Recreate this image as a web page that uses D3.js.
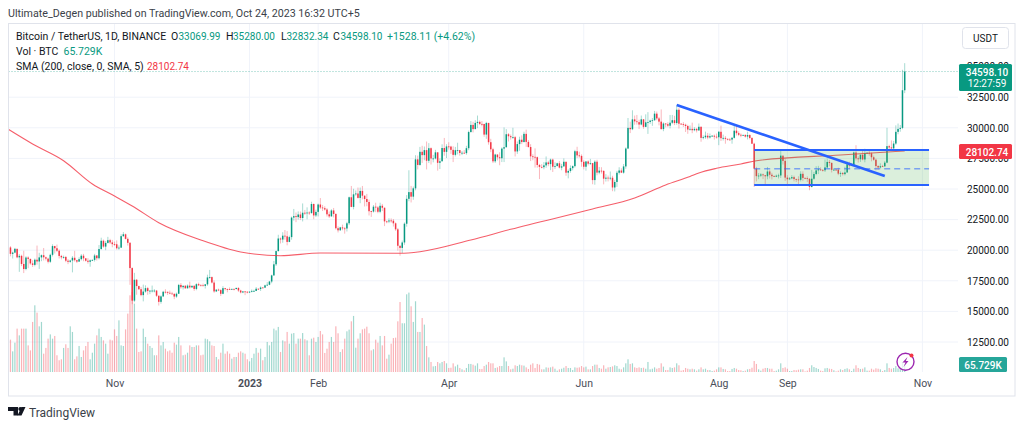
<!DOCTYPE html>
<html>
<head>
<meta charset="utf-8">
<script src="https://cdn.jsdelivr.net/npm/d3@7"></script>
<style>
body { margin: 0; background: white; }
text { font-family: Roboto, sans-serif; }
</style>
</head>
<body>
<script>
// daily candles, 2022-09-14 to 2023-10-24, one line per month
var firstDay = "2022-09-14";
var firstOpen = 20173;
var closes = [
20226,19701,19803,20113,19416,19537,18875,18461,19401,19289,18920,18802,19222,19079,19412,19591,19422,
19310,19056,19623,20336,20160,19955,19531,19417,19446,19141,19051,19157,19382,19185,19067,19268,19550,19334,19139,19053,19172,19207,19567,19345,20095,20771,20295,20595,20818,20635,20495,
20485,20159,20209,21148,21299,20925,20602,18541,15880,17586,17070,16813,16330,16619,16900,16662,16692,16700,16700,16280,15781,16226,16603,16599,16522,16459,16428,16212,16442,17163,
16977,17092,16885,17105,16967,17089,16836,17224,17128,17127,17085,17209,17774,17803,17356,16632,16777,16738,16439,16897,16824,16821,16778,16837,16830,16918,16707,16547,16633,16607,16542,
16616,16672,16675,16850,16831,16950,16943,17127,17178,17440,17943,18846,19930,20955,20872,21185,21134,20677,21071,22667,22783,22707,22917,22632,23060,23009,23074,23031,23774,22840,23130,
23732,23488,23431,23326,22932,22762,23249,22963,21796,21625,21862,21782,21773,22199,24324,23538,24566,24631,24271,24843,24452,24182,23940,23186,23158,23555,23492,23141,
23629,23469,22354,22346,22430,22409,22197,21705,20362,20187,20632,22163,24197,24746,24375,25055,27423,26965,28039,27767,28176,27307,28333,27493,27494,27994,27139,27268,28348,28033,28478,
28465,28199,27790,28170,28175,27942,27961,27933,28334,29653,30235,29892,30399,30485,30318,30315,29445,30397,28822,28245,27262,27817,27591,27514,28300,28415,29473,29311,29230,29233,
28068,28669,29026,28838,29505,28848,28430,27668,27628,27598,26963,26804,26784,26930,27171,27033,27404,26821,26880,27102,26747,26851,27225,26334,26473,26705,26868,28085,27745,27702,27219,
26819,27249,27069,27115,25728,27230,26339,26498,26477,25841,25925,25902,25918,25124,25575,26327,26511,26336,26844,28307,29993,29884,30688,30527,30462,30267,30692,30077,30446,30472,
30585,30617,31156,30766,30504,29895,30348,30292,30171,30414,30620,30391,31476,30334,30297,30249,30145,29856,29913,29803,29908,29791,30083,29176,29228,29354,29212,29314,29352,29275,29230,
29675,29152,29176,29097,29042,29041,29180,29765,29561,29429,29397,29415,29283,29408,29170,28701,26664,26049,26096,26189,26125,26040,26431,26163,26047,26004,26089,26106,27727,27297,25931,
25795,25869,25969,25812,25779,25753,26240,25905,25895,25832,25162,25840,26223,26522,26600,26560,26527,26760,27211,27133,26567,26580,26579,26256,26298,26217,26352,27021,26911,26968,
27983,27502,27429,27795,27412,27932,27956,27917,27591,27390,26875,26759,26862,26853,27154,28500,28396,28320,28713,29669,29909,29992,33069,34598.10
];
var highs = [
20540,20330,19890,20190,20110,19690,19630,19950,19500,19500,19310,19180,19320,20380,19790,19650,20180,
19480,19390,19720,20480,20360,20460,20060,19620,19560,19530,19270,19220,19520,19950,19210,19420,19680,19700,19360,19350,19250,19250,19700,19600,20420,21020,20870,20750,21090,20930,20840,
20700,20800,20390,21300,21480,21360,21050,20670,18600,18150,17650,17100,17000,17190,17130,17000,16750,17110,16820,16750,16290,16310,16680,16810,16610,16700,16600,16490,16540,17250,
17320,17110,17160,17200,17430,17110,17140,17300,17350,17230,17270,17240,18000,18390,17850,17530,16800,16860,16820,17060,16920,16870,16960,16860,16870,16940,16970,16770,16660,16650,16640,
16630,16790,16770,16990,16880,17040,16980,17180,17390,17490,18000,19120,19970,21260,21040,21470,21650,21560,21190,22750,23370,23080,23170,23160,23820,23290,23500,23180,23960,23820,23310,
23810,24260,23700,23590,23440,23160,23350,23450,23010,21950,21910,22090,21900,22320,24380,25250,25020,24880,25120,25120,25250,24480,24600,24130,23220,23690,23880,23600,
23880,23780,23480,22420,22610,22600,22550,22270,21820,20370,20790,22270,24500,26530,25250,25200,27760,27730,28440,28530,28470,28880,28750,28400,27790,28200,28020,27500,28650,29170,28660,
28820,28530,28490,28440,28780,28190,28100,28180,28530,29770,30550,30490,30620,31000,30600,30550,30320,30490,30410,29100,28370,27880,27820,28000,28400,30030,29890,29570,29450,30000,
29340,28880,29270,29380,29680,29850,29000,28660,27840,28320,27650,27050,27030,27200,27660,27300,27480,27480,27180,27150,27280,27050,27500,27220,26600,26930,26930,28200,28450,28050,27830,
27350,27300,27340,27460,27130,27350,27390,26800,26780,26530,26210,26100,26430,26080,25750,26480,26780,26690,27040,28400,30800,30500,31430,31000,31050,30660,31000,30710,31100,31280,
30660,30800,31380,31330,30880,31500,30450,30390,30450,31050,31050,30980,31820,31640,30390,30460,30340,30250,30190,30420,30050,29990,30350,30100,29380,29690,29580,29530,29410,29450,29530,
29740,30180,29440,29320,29130,29170,29250,30240,30140,29710,29540,29450,29470,29680,29470,29230,28780,26810,26310,26300,26260,26150,26800,26560,26320,26110,26180,26250,28140,27580,27490,
26130,25980,26130,26090,25860,26040,26450,26440,25950,26030,25890,26560,26400,26860,26890,26770,26620,27410,27490,27370,27160,26720,26640,26740,26430,26390,26820,27240,27230,27090,
28060,28580,27670,27830,28120,28290,28030,28120,27990,27730,27480,26950,27100,26980,27290,30000,28620,28970,28930,30200,30350,30230,34740,35280
];
var lows = [
19620,19500,19320,19750,19340,18230,18700,18130,18360,18530,18810,18630,18680,18820,18470,19100,19160,
19160,18920,18960,19490,19730,19850,19320,19250,19310,19020,18860,18970,18190,19070,18950,19060,19160,19100,19070,18900,18650,19110,19070,19160,19240,20050,20200,20000,20550,20510,20240,
20350,20050,20030,20180,21080,20880,20380,17170,15590,15750,16360,16750,16230,15820,16530,16360,16410,16550,16550,16180,15480,15630,16170,16460,16350,16400,16400,16000,16110,16430,
16850,16790,16860,16880,16870,16910,16680,16730,17090,17090,17070,16870,17090,17660,17280,16520,16580,16660,16260,16400,16710,16560,16760,16790,16720,16790,16590,16470,16490,16330,16470,
16500,16550,16600,16660,16750,16670,16910,16910,17100,17140,17300,17900,18710,19880,20550,20610,20860,20400,20650,20860,22420,22290,22500,22460,22350,22890,22530,22880,22990,22530,22710,
22760,23360,23200,23240,22750,22630,22750,22680,21690,21450,21600,21630,21350,21530,22050,23510,23340,24450,24220,23840,24150,23570,23590,22840,22720,23080,23110,23020,
23020,23200,21970,22200,22210,22250,21930,21580,19970,19550,19770,20440,21920,24000,23900,24120,24890,26600,26900,27130,27350,26600,27120,27000,27180,27420,26500,26630,27240,27720,27530,
28220,27870,27200,27660,27830,27720,27770,27880,27800,28170,29610,29620,29880,29970,30220,30120,29270,29100,28620,28010,27120,27130,27330,26940,27200,27200,28380,28880,29030,29090,
27660,27870,28120,28670,28800,28440,28380,27280,27350,26750,26740,25810,26690,26610,26730,26860,26540,26390,26630,26830,26680,26530,26820,26080,25870,26330,26530,26760,27530,27560,26820,
26600,26500,26920,26960,25390,25350,26120,26200,26260,25380,25610,25620,25710,24820,24800,25170,26180,26300,26250,26650,28260,29570,29810,30250,30260,29900,30200,29920,30050,29500,
30320,30160,30570,30620,30200,29850,29720,30040,30050,29950,30300,30220,30250,29940,30260,30070,29660,29510,29770,29560,29720,29620,29740,28860,29050,29100,29060,29120,29260,29040,29110,
28580,28920,28960,28700,28960,28970,28700,29120,29370,29320,29230,29350,29200,29050,29050,28680,25170,25620,25800,25970,25810,25300,25790,25860,25780,25980,25970,25860,25900,27000,25660,
25330,25730,25800,25620,25570,25350,25620,25640,25800,25570,24900,25130,25760,26120,26220,26470,26420,26390,26670,26850,26350,26480,26500,26130,25990,26100,26110,26320,26670,26890,
26950,27330,27160,27210,27340,27180,27860,27720,27260,27300,26530,26560,26690,26810,26800,27110,28100,28130,28170,28610,29470,29680,29880,32830
];
// volume in thousands of BTC
var volumes = [
314,265,169,240,355,300,355,355,355,218,177,410,546,486,374,410,150,
197,273,308,273,295,137,96,104,197,227,197,374,328,104,128,213,123,177,213,246,104,158,232,300,355,287,259,232,150,265,259,
349,295,423,218,213,349,478,628,655,560,355,164,169,355,287,232,213,197,137,137,300,218,246,191,169,177,158,240,224,287,
218,137,142,158,218,205,205,218,218,137,142,273,268,251,218,213,123,104,158,232,150,169,150,109,123,123,158,169,158,150,104,
87,115,150,197,158,191,96,123,246,218,246,355,341,369,164,259,251,328,232,314,319,232,273,273,319,268,259,137,273,281,246,
287,336,308,156,191,246,287,246,374,317,164,186,273,333,347,415,459,199,273,317,349,355,371,317,177,186,265,240,
295,218,295,109,142,232,278,281,415,573,399,399,636,650,538,410,579,328,328,442,388,213,120,82,46,49,82,71,82,90,71,
33,35,71,46,60,33,22,14,33,66,66,60,52,71,25,25,49,60,82,71,71,33,38,49,49,120,87,49,22,27,
55,49,60,55,52,38,25,60,71,33,66,60,22,22,38,35,38,44,27,11,22,27,35,49,33,33,16,38,35,38,49,
38,44,22,22,49,60,60,33,27,55,27,38,41,46,55,49,27,22,38,71,104,66,71,38,33,38,33,35,27,82,
22,27,38,27,33,71,44,16,16,38,33,38,71,55,11,16,33,27,22,27,22,11,22,38,22,27,16,16,8,11,22,
38,38,25,22,8,8,25,33,27,16,14,8,11,22,25,35,90,66,22,11,27,33,33,27,27,8,11,22,71,33,38,
27,8,8,16,14,19,22,22,5,11,33,55,41,33,25,11,8,30,33,27,25,14,5,11,22,16,25,30,22,8,
27,55,33,25,27,38,11,11,27,19,30,27,22,8,16,71,33,27,33,49,30,25,82,65.729
];
var smaDates = ["2022-09-14","2022-09-25","2022-10-09","2022-10-22","2022-11-01","2022-11-09","2022-11-21","2022-12-10","2022-12-28","2023-01-15","2023-02-02","2023-03-10","2023-03-19","2023-04-11","2023-04-29","2023-06-05","2023-06-24","2023-07-08","2023-07-19","2023-07-23","2023-07-31","2023-08-11","2023-08-18","2023-09-25","2023-10-24"];
var smaValues = [29877,28676,27312,25408,24428,23611,22247,20833,19853,19550,19771,19747,19877,20833,21707,23366,24265,25327,26021,26307,26691,27042,27312,27778,28102.74];
var yTicks = [12500,15000,17500,20000,22500,25000,27500,30000,32500,35000];
var xTickDates = ["2022-11-01","2023-01-01","2023-02-01","2023-04-01","2023-06-01","2023-08-01","2023-09-01","2023-11-01"];
var xTickLabels = ["Nov","2023","Feb","Apr","Jun","Aug","Sep","Nov"];
var trendDates = ["2023-07-13","2023-10-15"];
var trendPrices = [31863,26062];
var boxDates = ["2023-08-17","2023-11-04"];
var boxPrices = [28186,25327];
var boxMid = 26660;

var upColor = "#089981";
var downColor = "#f23645";
var textColor = "#131722";

var plotLeft = 8.5, plotRight = 958, plotTop = 23, plotBottom = 372;

var parse = d3.utcParse("%Y-%m-%d");
var start = parse(firstDay);
var candles = closes.map(function(c,i){
    return {
        date : d3.utcDay.offset(start,i),
        open : i==0 ? firstOpen : closes[i-1],
        close : c,
        high : highs[i],
        low : lows[i],
        vol : volumes[i]
    };
});

var x = d3.scaleUtc()
          .domain([parse("2022-11-01"),parse("2023-11-01")])
          .range([114.5,922.4]);
var y = d3.scaleLinear()
          .domain([12500,35000])
          .range([342,66.6]);
var v = d3.scaleLinear()
          .domain([0,655])
          .range([plotBottom,292]);

var svg = d3.select("body").append("svg")
            .attr("width",1024)
            .attr("height",427)
            .style("display","block")
            .style("background","white");

svg.append("clipPath").attr("id","plot")
   .append("rect")
   .attr("x",plotLeft).attr("y",plotTop)
   .attr("width",plotRight-plotLeft).attr("height",plotBottom-plotTop);

// grid
svg.selectAll(".hgrid").data(yTicks.filter(function(t){ return t<35000; }))
   .enter().append("line")
   .attr("x1",plotLeft).attr("x2",plotRight)
   .attr("y1",function(d){ return y(d); })
   .attr("y2",function(d){ return y(d); })
   .attr("stroke","#f0f3fa");
svg.selectAll(".vgrid").data(xTickDates)
   .enter().append("line")
   .attr("x1",function(d){ return x(parse(d)); })
   .attr("x2",function(d){ return x(parse(d)); })
   .attr("y1",plotTop).attr("y2",plotBottom)
   .attr("stroke","#f0f3fa");

var plot = svg.append("g").attr("clip-path","url(#plot)");

// volume
plot.selectAll(".vol").data(candles)
    .enter().append("rect")
    .attr("x",function(d){ return x(d.date)-0.6; })
    .attr("width",1.2)
    .attr("y",function(d){ return v(d.vol); })
    .attr("height",function(d){ return plotBottom-v(d.vol); })
    .attr("fill",function(d){ return d.close>=d.open ? upColor : downColor; })
    .attr("opacity",0.38);

// last price line
plot.append("line")
    .attr("x1",plotLeft).attr("x2",plotRight)
    .attr("y1",y(34598.10)).attr("y2",y(34598.10))
    .attr("stroke",upColor).attr("stroke-opacity",0.5)
    .attr("stroke-dasharray","1 2");

// candles
plot.selectAll(".wick").data(candles)
    .enter().append("line")
    .attr("x1",function(d){ return x(d.date); })
    .attr("x2",function(d){ return x(d.date); })
    .attr("y1",function(d){ return y(d.high); })
    .attr("y2",function(d){ return y(d.low); })
    .attr("stroke",function(d){ return d.close>=d.open ? upColor : downColor; })
    .attr("stroke-width",0.8)
    .attr("stroke-opacity",0.45);
plot.selectAll(".body").data(candles)
    .enter().append("rect")
    .attr("x",function(d){ return x(d.date)-0.75; })
    .attr("width",1.5)
    .attr("y",function(d){ return y(Math.max(d.open,d.close)); })
    .attr("height",function(d){ return Math.max(0.8,Math.abs(y(d.open)-y(d.close))); })
    .attr("fill",function(d){ return d.close>=d.open ? upColor : downColor; });

// SMA 200
var smaLine = d3.line()
    .x(function(d,i){ return x(parse(smaDates[i])); })
    .y(function(d){ return y(d); })
    .curve(d3.curveMonotoneX);
plot.append("path")
    .attr("d",smaLine(smaValues))
    .attr("fill","none")
    .attr("stroke",downColor)
    .attr("stroke-opacity",0.8)
    .attr("stroke-width",1.1);

// rectangle drawing
svg.append("rect")
   .attr("x",x(parse(boxDates[0])))
   .attr("width",x(parse(boxDates[1]))-x(parse(boxDates[0])))
   .attr("y",y(boxPrices[0]))
   .attr("height",y(boxPrices[1])-y(boxPrices[0]))
   .attr("fill","#4caf50")
   .attr("fill-opacity",0.2);
boxPrices.forEach(function(p){
    svg.append("line")
       .attr("x1",x(parse(boxDates[0]))).attr("x2",x(parse(boxDates[1])))
       .attr("y1",y(p)).attr("y2",y(p))
       .attr("stroke","#2962ff").attr("stroke-width",2);
});
svg.append("line")
   .attr("x1",x(parse(boxDates[0]))).attr("x2",x(parse(boxDates[1])))
   .attr("y1",y(boxMid)).attr("y2",y(boxMid))
   .attr("stroke","#2962ff").attr("stroke-opacity",0.55)
   .attr("stroke-width",1.5)
   .attr("stroke-dasharray","6 4");

// trend line
svg.append("line")
   .attr("x1",x(parse(trendDates[0]))).attr("x2",x(parse(trendDates[1])))
   .attr("y1",y(trendPrices[0])).attr("y2",y(trendPrices[1]))
   .attr("stroke","#2962ff").attr("stroke-width",2.6);

// axes
var yAxis = d3.axisRight(y).tickValues(yTicks).tickSize(0).tickPadding(9)
              .tickFormat(d3.format(".2f"));
var yG = svg.append("g").attr("transform","translate("+plotRight+",0)").call(yAxis);
yG.select(".domain").remove();
yG.selectAll("text").style("font-family","Roboto, sans-serif").style("font-size","10px").attr("fill",textColor);

var xAxis = d3.axisBottom(x).tickValues(xTickDates.map(parse)).tickSize(0).tickPadding(8)
              .tickFormat(function(d,i){ return xTickLabels[i]; });
var xG = svg.append("g").attr("transform","translate(0,"+plotBottom+")").call(xAxis);
xG.select(".domain").remove();
xG.selectAll("text").style("font-family","Roboto, sans-serif").style("font-size","10.5px").attr("fill","#4a4e59")
  .style("font-weight",function(d,i){ return xTickLabels[i]=="2023" ? "700" : "400"; });

// frame
svg.append("rect")
   .attr("x",8.5).attr("y",23.5).attr("width",1006.5).attr("height",372.5)
   .attr("fill","none").attr("stroke","#e0e3eb");

// price labels
svg.append("rect").attr("x",959).attr("y",64).attr("width",53).attr("height",27)
   .attr("rx",1.5).attr("fill",upColor);
svg.append("rect").attr("x",959).attr("y",144).attr("width",53).attr("height",15)
   .attr("rx",1.5).attr("fill",downColor);
svg.append("rect").attr("x",959).attr("y",357).attr("width",48).attr("height",15)
   .attr("rx",1.5).attr("fill","#26a69a");

function label(tx,ty,str,color,size,anchor,weight){
    return svg.append("text")
              .attr("x",tx).attr("y",ty)
              .attr("fill",color)
              .attr("text-anchor",anchor||"start")
              .style("font-size",(size||10)+"px")
              .style("font-weight",weight||"400")
              .text(str);
}
label(987,75.5,"34598.10","white",10,"middle","500");
label(987,87,"12:27:59","white",10,"middle");
label(987,155.5,"28102.74","white",10,"middle","500");
label(983,368.5,"65.729K","white",10,"middle","500");

// USDT button
svg.append("rect").attr("x",962.5).attr("y",27.5).attr("width",46).attr("height",21)
   .attr("rx",3).attr("fill","white").attr("stroke","#e0e3eb");
label(985.5,42,"USDT",textColor,10,"middle");

// header and legend
label(8,17,"Ultimate_Degen published on TradingView.com, Oct 24, 2023 16:32 UTC+5","#3b3f49",10.7);
label(16,40,"Bitcoin / TetherUS, 1D, BINANCE",textColor,10.5);
var ohlcLetters = ["O","H","L","C"];
var ohlcValues = ["33069.99","35280.00","32832.34","34598.10"];
var letterX = [171,226,281,333];
var valueX = [178.5,233,286.5,340.5];
ohlcLetters.forEach(function(l,i){
    label(letterX[i],40,l,textColor,10.5);
    label(valueX[i],40,ohlcValues[i],upColor,10);
});
label(387,40,"+1528.11 (+4.62%)",upColor,10.5);
label(16,55,"Vol \u00b7 BTC",textColor,10.5);
label(63.5,55,"65.729K",upColor,10.5);
label(16,70,"SMA (200, close, 0, SMA, 5)",textColor,10.5);
label(147,70,"28102.74",downColor,10);

// bolt badge
svg.append("circle").attr("cx",905.5).attr("cy",361.7).attr("r",8.5)
   .attr("fill","white").attr("fill-opacity",0.75)
   .attr("stroke","#9c27b0").attr("stroke-width",1.4);
svg.append("path").attr("d","M907.5 357 L902.5 362.5 H905.5 L903.5 367 L908.5 361 H905.8 Z")
   .attr("fill","#9c27b0");
svg.append("circle").attr("cx",911.5).attr("cy",355.5).attr("r",2).attr("fill",downColor);

// logo
svg.append("path").attr("d","M8 407 H18 V415.5 H13.5 V411 H8 Z").attr("fill",textColor);
svg.append("circle").attr("cx",20.3).attr("cy",409).attr("r",2).attr("fill",textColor);
svg.append("path").attr("d","M25.5 407 L21.5 415.5 H17.5 L21.5 407 Z").attr("fill",textColor);
label(29,416.5,"TradingView","#3b3f49",12);
</script>
</body>
</html>
